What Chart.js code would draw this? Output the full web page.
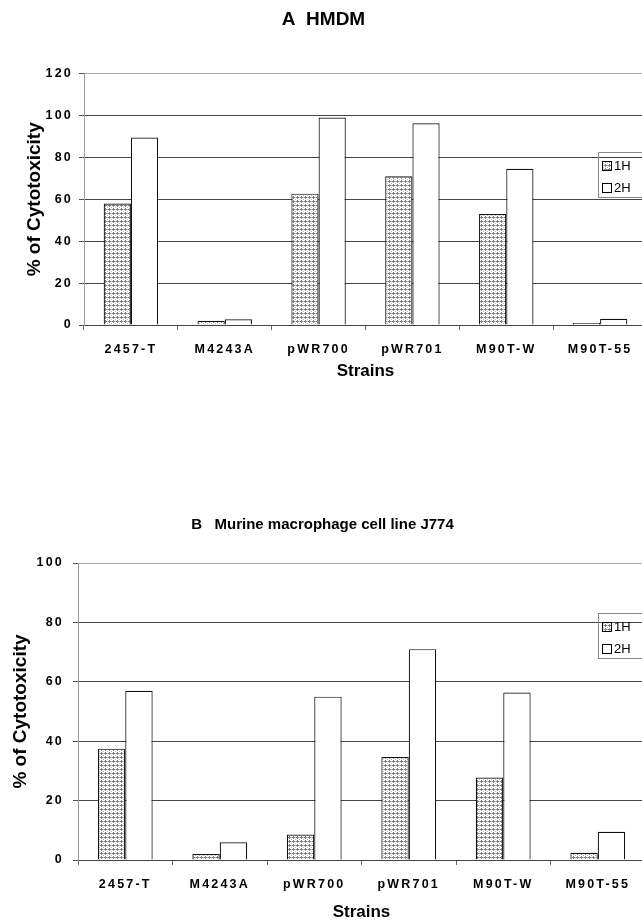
<!DOCTYPE html>
<html>
<head>
<meta charset="utf-8">
<script src="https://cdn.jsdelivr.net/npm/chart.js@4.4.0/dist/chart.umd.min.js"></script>
<style>
  body { margin: 0; width: 642px; height: 921px; overflow: hidden; background: #fff; position: relative; }
  canvas { position: absolute; left: 0; }
  #chartA { top: 0; }
  #chartB { top: 480px; }
</style>
</head>
<body>
<canvas id="chartA" width="660" height="390"></canvas>
<canvas id="chartB" width="660" height="451"></canvas>
<script>
const strains = ["2457-T", "M4243A", "pWR700", "pWR701", "M90T-W", "M90T-55"];
const seriesNames = ["1H", "2H"];

// panel A - HMDM
const hmdm1H = [58, 2, 62.7, 71, 53, 1];
const hmdm2H = [89.5, 2.7, 99, 96.3, 74.6, 3];

// panel B - J774
const j774_1H = [37.5, 2, 8.6, 34.7, 27.8, 2.4];
const j774_2H = [57, 6, 55, 71, 56.4, 9.5];

const FONT = "'Liberation Sans', Arial, sans-serif";

// stippled fill for the 1H bars
function stipple() {
  const c = document.createElement("canvas");
  c.width = 4;
  c.height = 4;
  const g = c.getContext("2d");
  g.fillStyle = "#fff";
  g.fillRect(0, 0, 4, 4);
  g.fillStyle = "#808080";
  g.fillRect(1, 0, 1, 1);
  g.fillRect(0, 1, 3, 1);
  g.fillRect(1, 2, 1, 1);
  g.fillStyle = "#bbb";
  g.fillRect(3, 3, 1, 1);
  g.fillRect(3, 1, 1, 1);
  return g.createPattern(c, "repeat");
}
const dots = stipple();

// wider letter spacing on tick labels, like the scanned figure
function spaced(scale) {
  if (scale._spaced) return;
  scale._spaced = true;
  const orig = scale.drawLabels;
  scale.drawLabels = function (area) {
    this.ctx.save();
    this.ctx.letterSpacing = "2.2px";
    orig.call(this, area);
    this.ctx.restore();
  };
}

const boxLegend = {
  id: "boxLegend",
  afterDraw(chart, args, opts) {
    const ctx = chart.ctx;
    ctx.save();
    ctx.strokeStyle = "#888";
    ctx.lineWidth = 1;
    ctx.strokeRect(opts.x + 0.5, opts.y + 0.5, 70, opts.h);
    ctx.font = "13px " + FONT;
    ctx.textBaseline = "middle";
    chart.data.datasets.forEach((ds, i) => {
      const y = opts.y + 14 + i * 22;
      ctx.fillStyle = ds.backgroundColor;
      ctx.fillRect(opts.x + 4, y - 4.5, 9, 9);
      ctx.strokeStyle = "#000";
      ctx.strokeRect(opts.x + 4.5, y - 4.5, 9, 9);
      ctx.fillStyle = "#000";
      ctx.fillText(ds.label, opts.x + 16, y + 0.5);
    });
    ctx.restore();
  }
};

function drawPanel(id, p) {
  new Chart(document.getElementById(id), {
    type: "bar",
    data: {
      labels: strains,
      datasets: [
        { label: seriesNames[0], data: p.v1, backgroundColor: dots, borderColor: "#111", borderWidth: 1.2 },
        { label: seriesNames[1], data: p.v2, backgroundColor: "#fff", borderColor: "#111", borderWidth: 1.2 }
      ]
    },
    options: {
      responsive: false,
      animation: false,
      devicePixelRatio: 1,
      categoryPercentage: 0.58,
      barPercentage: 1,
      layout: { padding: { left: 0, top: 0, right: p.right, bottom: 0 } },
      plugins: {
        legend: { display: false },
        tooltip: { enabled: false },
        title: {
          display: true,
          text: p.title,
          color: "#000",
          font: { family: FONT, size: p.titleSize, weight: "bold" },
          padding: { top: p.titleTop, bottom: p.titleBottom }
        },
        boxLegend: { x: 598, y: p.legendY, h: 45 }
      },
      scales: {
        x: {
          afterFit(s) { s.height = p.xHeight; },
          afterUpdate: spaced,
          grid: { drawOnChartArea: false, drawTicks: true, tickLength: 5, color: "#666" },
          border: { color: "#444" },
          ticks: { color: "#000", padding: 12, maxRotation: 0, autoSkip: false, font: { family: FONT, size: 12.5, weight: "bold" } },
          title: {
            display: true,
            text: "Strains",
            color: "#000",
            font: { family: FONT, size: 17, weight: "bold" },
            padding: { top: 0, bottom: 8 }
          }
        },
        y: {
          min: 0,
          max: p.yMax,
          afterFit(s) { s.width = p.yWidth; },
          afterUpdate: spaced,
          grid: {
            color: (c) => c.tick && c.tick.value === p.yMax ? "#aaa" : "#444",
            tickColor: "#555",
            tickLength: 5
          },
          border: { color: "#999" },
          ticks: { stepSize: 20, color: "#000", padding: p.yPad, font: { family: FONT, size: 12.5, weight: "bold" } },
          title: {
            display: true,
            text: "% of Cytotoxicity",
            color: "#000",
            font: { family: FONT, size: 19, weight: "bold" },
            padding: { top: p.yTitlePad, bottom: 0 }
          }
        }
      }
    },
    plugins: [boxLegend]
  });
}

drawPanel("chartA", {
  title: "A  HMDM", titleSize: 19, titleTop: 8.5, titleBottom: 42.3,
  v1: hmdm1H, v2: hmdm2H, yMax: 120,
  yWidth: 84, yPad: 6, yTitlePad: 23.5, xHeight: 65, right: 13, legendY: 152
});

drawPanel("chartB", {
  title: "B   Murine macrophage cell line J774", titleSize: 15, titleTop: 36, titleBottom: 29,
  v1: j774_1H, v2: j774_2H, yMax: 100,
  yWidth: 78, yPad: 9, yTitlePad: 9.5, xHeight: 71, right: 15, legendY: 133
});
</script>
</body>
</html>
